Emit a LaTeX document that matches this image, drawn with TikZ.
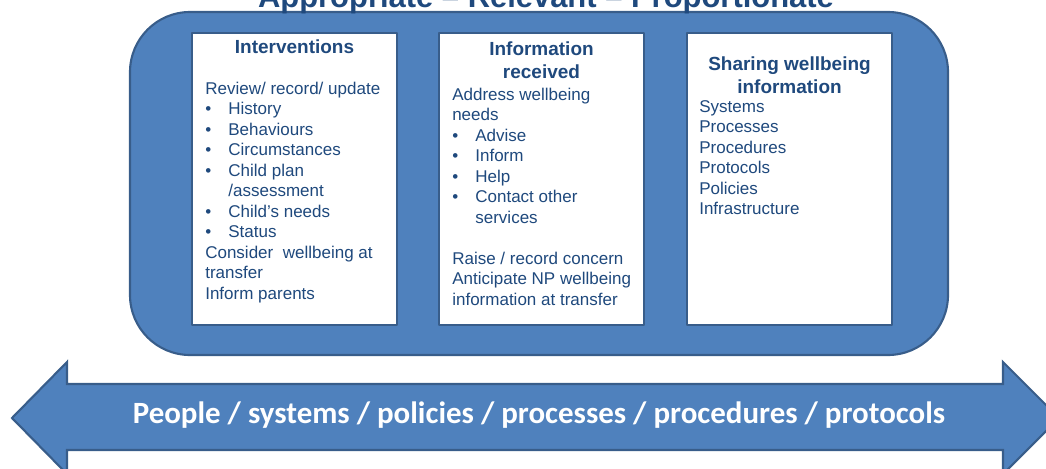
\documentclass[tikz,border=0pt]{standalone}
\usepackage{fontspec}
\setmainfont{Liberation Sans}
\newfontfamily\calibri{Carlito}
\definecolor{boxblue}{RGB}{79,129,189}
\definecolor{edgeblue}{RGB}{56,93,138}
\definecolor{inkblue}{RGB}{31,73,125}
\newlength{\bulletw}\setlength{\bulletw}{16.4pt}
\newcommand{\itm}[1]{\makebox[\bulletw][l]{\textbullet}#1}
\newcommand{\itmgo}[1]{\hspace*{\bulletw}#1}
\begin{document}
\begin{tikzpicture}[x=0.025cm,y=-0.025cm,line join=round,
	panel/.style={draw=edgeblue,line width=1.5pt,fill=white,minimum width=5.125cm,minimum height=7.3cm,inner sep=0pt},
	panelhead/.style={anchor=base,inner sep=0pt,text=inkblue,font=\fontsize{13.5}{16.4}\selectfont\bfseries},
	paneltext/.style={anchor=base west,inner sep=0pt,text=inkblue,font=\fontsize{12.1}{14.6}\selectfont}]
	\useasboundingbox (0,0) rectangle (1046,468);
	% outer frame and title
	\draw[fill=boxblue,draw=edgeblue,line width=1.5pt,rounded corners=1.5cm] (130,12) rectangle (948,355);
	\node[anchor=base,inner sep=0pt,text=inkblue,font=\fontsize{22}{26}\selectfont\bfseries] (title) at (546,7) {Appropriate -- Relevant -- Proportionate};
	% three panels
	\node[panel] (interv) at (294.5,179) {};
	\node[panel] (inforec) at (541.5,179) {};
	\node[panel] (sharing) at (789.5,179) {};
	\node[panelhead] (intervhead) at (294.5,53) {\begin{tabular}[t]{@{}c@{}}Interventions\end{tabular}};
	\node[panelhead] (inforechead) at (541.5,55) {\begin{tabular}[t]{@{}c@{}}Information\\received\end{tabular}};
	\node[panelhead] (sharinghead) at (789.5,70) {\begin{tabular}[t]{@{}c@{}}Sharing wellbeing\\information\end{tabular}};
	\node[paneltext] (intervtext) at (205,94) {\begin{tabular}[t]{@{}l@{}}
		Review/ record/ update\\
		\itm{History}\\
		\itm{Behaviours}\\
		\itm{Circumstances}\\
		\itm{Child plan}\\
		\itmgo{/assessment}\\
		\itm{Child’s needs}\\
		\itm{Status}\\
		Consider\ \ wellbeing at\\
		transfer\\
		Inform parents
	\end{tabular}};
	\node[paneltext] (inforectext) at (452,100) {\begin{tabular}[t]{@{}l@{}}
		Address wellbeing\\
		needs\\
		\itm{Advise}\\
		\itm{Inform}\\
		\itm{Help}\\
		\itm{Contact other}\\
		\itmgo{services}\\
		\\
		Raise / record concern\\
		Anticipate NP wellbeing\\
		information at transfer
	\end{tabular}};
	\node[paneltext] (sharingtext) at (699,112) {\begin{tabular}[t]{@{}l@{}}
		Systems\\
		Processes\\
		Procedures\\
		Protocols\\
		Policies\\
		Infrastructure
	\end{tabular}};
	% double arrow
	\draw[fill=boxblue,draw=edgeblue,line width=1.5pt,line join=miter] (12,418) -- (67,362) -- (67,384) -- (1003,384) -- (1003,362) -- (1059,418) -- (1003,474) -- (1003,450) -- (67,450) -- (67,474) -- cycle;
	\node[anchor=base,inner sep=0pt,text=white,font=\calibri\fontsize{22}{26}\selectfont\bfseries] (themes) at (539,423) {People / systems / policies / processes / procedures / protocols};
\end{tikzpicture}
\end{document}
